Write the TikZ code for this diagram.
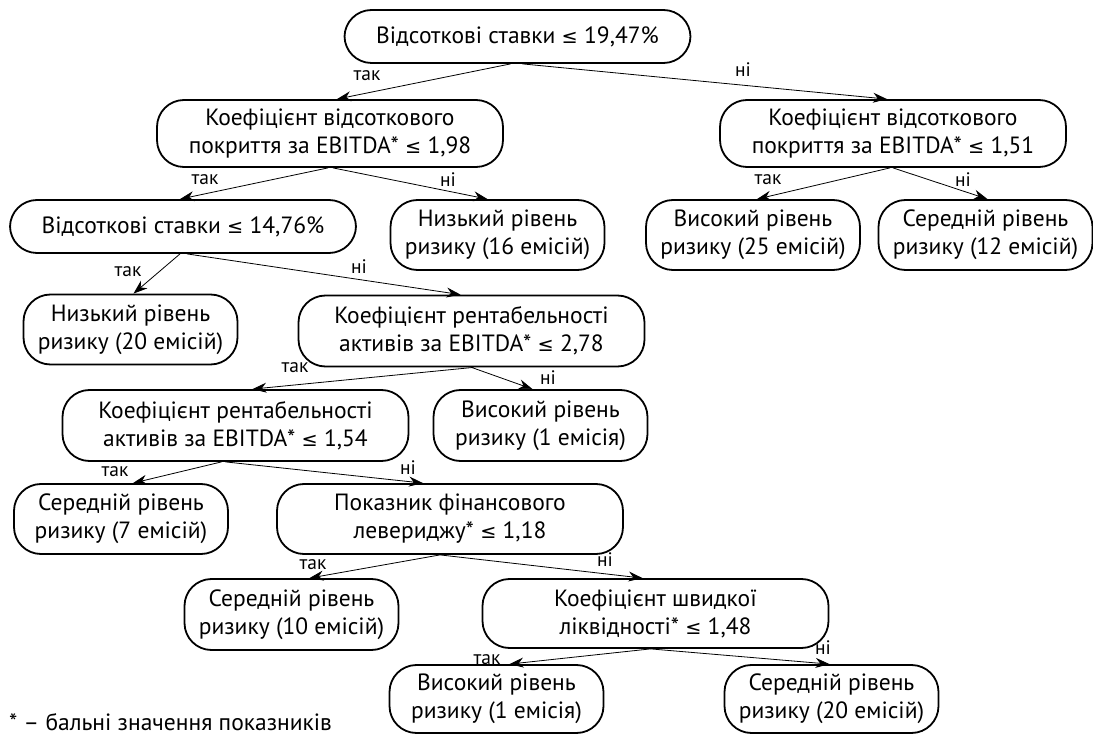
\documentclass[tikz,border=0pt]{standalone}
\usepackage{fontspec}
\setmainfont{PT Sans}
\newfontfamily\symf[Scale=0.82]{DejaVu Sans}
\newcommand\leqs{{\symf ≤}}
\usetikzlibrary{arrows.meta}
\begin{document}
\begin{tikzpicture}[x=1pt,y=-1pt,
  box/.style={draw, line width=1.8pt, rounded corners=27pt, align=center,
    font=\fontsize{23.5}{28}\selectfont, inner sep=0pt},
  dec/.style={box, minimum width=346pt, minimum height=#1},
  dec/.default=53pt,
  leaf/.style={box, minimum width=214pt, minimum height=70pt},
  conn/.style={-{Stealth[length=14pt,width=10pt]}, line width=0.8pt},
  lab/.style={font=\fontsize{19.5}{20}\selectfont, inner sep=0pt}]
\useasboundingbox (0,0) rectangle (1093,735);

% nodes
\node[dec] (root) at (517.5,36.5) {Відсоткові ставки \leqs{} 19,47\%};
\node[dec=67pt] (A) at (330,133.5) {Коефіцієнт відсоткового\\покриття за EBITDA* \leqs{} 1,98};
\node[dec=67pt] (B) at (893,133.5) {Коефіцієнт відсоткового\\покриття за EBITDA* \leqs{} 1,51};
\node[dec] (C) at (183,226.5) {Відсоткові ставки \leqs{} 14,76\%};
\node[leaf] (D) at (497.5,235) {Низький рівень\\ризику (16 емісій)};
\node[leaf] (E) at (753,235) {Високий рівень\\ризику (25 емісій)};
\node[leaf] (F) at (985.5,235) {Середній рівень\\ризику (12 емісій)};
\node[leaf] (G) at (130.5,329.5) {Низький рівень\\ризику (20 емісій)};
\node[dec=71pt] (H) at (471.5,331) {Коефіцієнт рентабельності\\активів за EBITDA* \leqs{} 2,78};
\node[dec=71pt] (I) at (235.5,425.5) {Коефіцієнт рентабельності\\активів за EBITDA* \leqs{} 1,54};
\node[leaf, minimum height=71pt] (J) at (540.5,425.5) {Високий рівень\\ризику (1 емісія)};
\node[leaf] (K) at (121,519) {Середній рівень\\ризику (7 емісій)};
\node[dec=70pt] (L) at (450,519) {Показник фінансового\\левериджу* \leqs{} 1,18};
\node[leaf, minimum height=71pt] (M) at (291.5,614.5) {Середній рівень\\ризику (10 емісій)};
\node[dec=69pt] (N) at (655.5,613.5) {Коефіцієнт швидкої\\ліквідності* \leqs{} 1,48};
\node[leaf, minimum height=68pt] (O) at (496.5,699) {Високий рівень\\ризику (1 емісія)};
\node[leaf, minimum height=68pt] (P) at (831.5,699) {Середній рівень\\ризику (20 емісій)};

% connectors
\draw[conn] ([xshift=-7pt]root.south) -- ([xshift=7pt]A.north);
\draw[conn] ([xshift=5pt]root.south) -- ([xshift=-6pt]B.north);
\draw[conn] ([xshift=-2pt]A.south) -- ([xshift=-3pt]C.north);
\draw[conn] ([xshift=3pt]A.south) -- ([xshift=-10pt]D.north);
\draw[conn] ([xshift=-3pt]B.south) -- ([xshift=4pt]E.north);
\draw[conn] (B.south) -- ([xshift=2pt]F.north);
\draw[conn] ([xshift=-3pt]C.south) -- ([xshift=3pt]G.north);
\draw[conn] ([xshift=4pt]C.south) -- ([xshift=-11pt]H.north);
\draw[conn] ([xshift=2pt]H.south) -- ([xshift=17pt]I.north);
\draw[conn] (H.south) -- ([xshift=-8pt]J.north);
\draw[conn] ([xshift=-14pt]I.south) -- ([xshift=12pt]K.north);
\draw[conn] ([xshift=-10pt]I.south) -- ([xshift=-27pt]L.north);
\draw[conn] ([xshift=-10pt]L.south) -- ([xshift=18pt]M.north);
\draw[conn] ([xshift=-10pt]L.south) -- ([xshift=-13pt]N.north);
\draw[conn] ([xshift=-5pt]N.south) -- ([xshift=13pt]O.north);
\draw[conn] ([xshift=-5pt]N.south) -- ([xshift=-2pt]P.north);

% labels
\node[lab] (l1) at (367,76) {так};
\node[lab] (l2) at (743,70) {ні};
\node[lab] (l3) at (205,180) {так};
\node[lab] (l4) at (448,180) {ні};
\node[lab] (l5) at (768,180) {так};
\node[lab] (l6) at (963,180) {ні};
\node[lab] (l7) at (128,272) {так};
\node[lab] (l8) at (359,267) {ні};
\node[lab] (l9) at (295,368) {так};
\node[lab] (l10) at (548,378) {ні};
\node[lab] (l11) at (115,472) {так};
\node[lab] (l12) at (408,468) {ні};
\node[lab] (l13) at (313,565) {так};
\node[lab] (l14) at (605,560) {ні};
\node[lab] (l15) at (487,660) {так};
\node[lab] (l16) at (823,648) {ні};

% footnote
\node[anchor=west, inner sep=0pt, font=\fontsize{23.5}{26}\selectfont] (fn) at (9,722) {* – бальні значення показників};
\end{tikzpicture}
\end{document}
